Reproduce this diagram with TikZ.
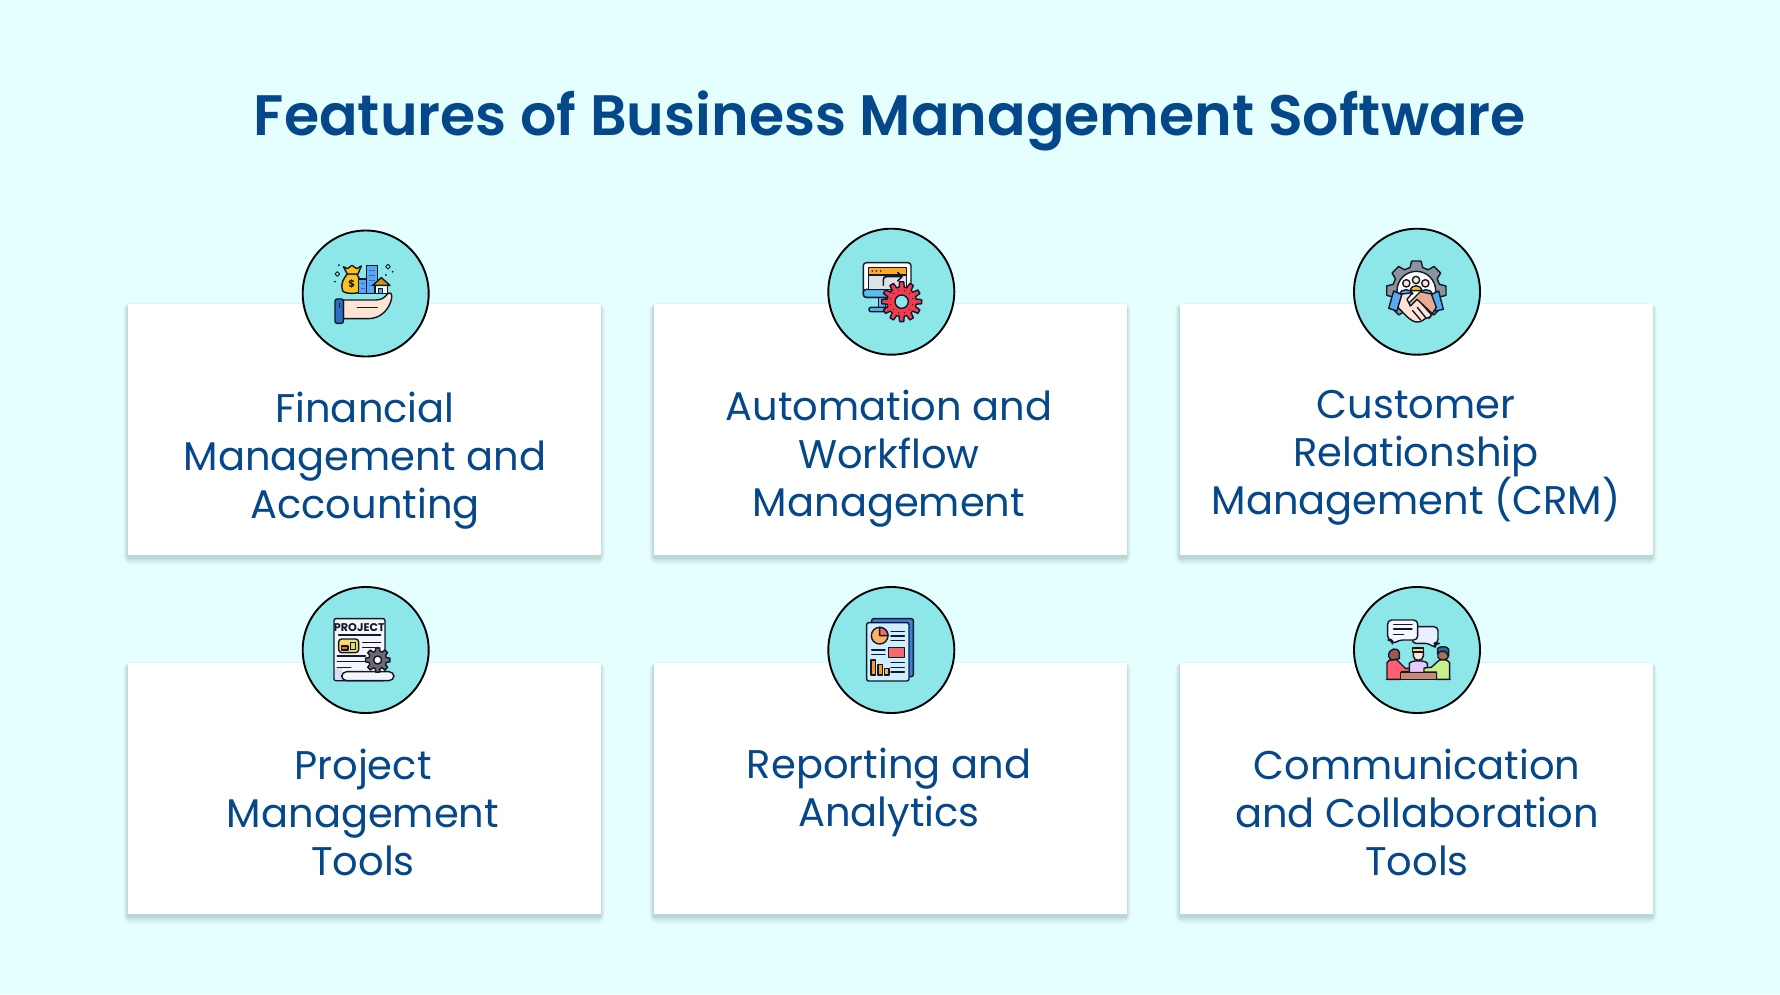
\documentclass[tikz,border=0pt]{standalone}
\usepackage{fontspec}
\setmainfont{Poppins}
\newfontfamily\titlefont{Poppins SemiBold}
\newfontfamily\bodyfont{Poppins}
\newfontfamily\boldfont{Poppins}[BoldFont={Poppins Bold}]
\definecolor{pagebg}{HTML}{E5FEFF}
\definecolor{disc}{HTML}{8DE6E8}
\definecolor{ink}{HTML}{04478A}
\definecolor{line}{HTML}{10182A}
\definecolor{skin}{HTML}{FFE3D3}
\definecolor{skindark}{HTML}{E8AB90}
\definecolor{gold}{HTML}{FFC21A}
\definecolor{roof}{HTML}{C99A12}
\definecolor{sky}{HTML}{5AA8F0}
\definecolor{cuff}{HTML}{2F6CC4}
\definecolor{gearred}{HTML}{F23B4C}
\definecolor{gearslate}{HTML}{8C939C}
\definecolor{gearmauve}{HTML}{6F6870}
\definecolor{screenorange}{HTML}{FFAA22}
\definecolor{screengray}{HTML}{DDE2E2}
\definecolor{baseblue}{HTML}{5CBCF0}
\definecolor{pagelilac}{HTML}{DCDDF3}
\definecolor{pagewhite}{HTML}{F5F6FA}
\definecolor{panelyellow}{HTML}{FFD966}
\definecolor{panelred}{HTML}{F26B6F}
\definecolor{panelgreen}{HTML}{B8E986}
\definecolor{backblue}{HTML}{3A80E0}
\definecolor{frontblue}{HTML}{CFEEFF}
\definecolor{pieorange}{HTML}{FFB060}
\definecolor{barorange}{HTML}{FF9A1F}
\definecolor{hair}{HTML}{9A5A50}
\definecolor{shirtred}{HTML}{FF5F6F}
\definecolor{shirtlilac}{HTML}{E5CCFF}
\definecolor{hairyellow}{HTML}{FFD760}
\definecolor{faceb}{HTML}{B07050}
\definecolor{hairblue}{HTML}{2A6F8F}
\definecolor{shirtgreen}{HTML}{C8F08C}
\definecolor{tabletop}{HTML}{C98870}
\definecolor{bubblea}{HTML}{F5F8FF}
\definecolor{bubbleb}{HTML}{E8F0FD}
\tikzset{
  cardbox/.style={fill=white,draw=none,minimum width=473pt,minimum height=251pt,inner sep=0pt},
  discbox/.style={circle,fill=disc,draw=black,line width=1.9pt,minimum size=126pt,inner sep=0pt},
  cardtext/.style={text=ink,align=center,inner sep=0pt,font=\bodyfont\fontsize{40}{48}\selectfont},
  ol/.style={draw=line,line width=1.4pt,line join=round,line cap=round}
}
% gear: cx cy router rinner teeth fill holeR holeFill
\newcommand{\cog}[8]{%
  \begin{scope}[shift={(#1,#2)}]
    \pgfmathsetmacro{\stepang}{360/#5}
    \pgfmathsetmacro{\quarter}{\stepang/5}
    \draw[ol,fill=#6] (-\quarter:#3)
      \foreach \k in {1,...,#5}{
        -- ({(\k-1)*\stepang+\quarter}:#3)
        -- ({(\k-1)*\stepang+1.7*\quarter}:#4)
        -- ({\k*\stepang-1.7*\quarter}:#4)
        -- ({\k*\stepang-\quarter}:#3)
      } -- cycle;
    \draw[ol,fill=#8] (0,0) circle[radius=#7];
  \end{scope}}
\newcommand{\card}[5]{% name, cx, card top, disc cy, disc cx
  \foreach \g/\o in {9/0.025,7/0.03,5/0.035,3/0.045,1.5/0.06}{
    \fill[black!60!teal,opacity=\o,rounded corners=\g pt]
      ({#2-236.5-\g*0.5},{#3+3-\g*0.5}) rectangle ({#2+236.5+\g*0.5},{#3+251+3+\g*0.75});
  }
  \node[cardbox] (#1) at (#2,{#3+125.5}) {};
  \node[discbox] (#1disc) at (#5,#4) {};
}
\begin{document}
\begin{tikzpicture}[x=1pt,y=-1pt]
\useasboundingbox (0,0) rectangle (1780,994);
\fill[pagebg] (0,0) rectangle (1780,994);
\node[text=ink,inner sep=0pt,font=\titlefont\fontsize{57}{66}\selectfont] (title) at (890,121) {Features of Business Management Software};

\card{a}{364}{304}{293.5}{365.7}
\card{b}{890}{304}{291.7}{891.3}
\card{c}{1416}{304}{291.7}{1417}
\card{d}{364}{663}{650}{365.7}
\card{e}{890}{663}{650}{891.3}
\card{f}{1416}{663}{650}{1417}

\node[cardtext] (ta) at (365,461) {Financial\\Management and\\Accounting};
\node[cardtext] (tb) at (889,459) {Automation and\\Workflow\\Management};
\node[cardtext] (tc) at (1416,458) {Customer\\Relationship\\Management (CRM)};
\node[cardtext] (td) at (363,812) {Project\\Management\\Tools};
\node[cardtext] (te) at (889,792.5) {Reporting and\\Analytics};
\node[cardtext] (tf) at (1417,812) {Communication\\and Collaboration\\Tools};

% ---------- icon 1: hand with assets
\begin{scope}[shift={(290,220)},x=0.3333pt,y=-0.3333pt]
  \draw[ol,fill=skin] (160,240) -- (258,240) .. controls (275,240) and (285,232) .. (292,222) .. controls (300,214) and (308,222) .. (305,235) .. controls (298,270) and (270,296) .. (235,296) -- (160,296) -- cycle;
  \draw[ol] (202,262) -- (262,262);
  \draw[ol,fill=cuff,rounded corners=2pt] (135,237) rectangle (160,310);
  \draw[ol] (148,250) -- (148,262);
  % bag
  \draw[ol,fill=gold] (172,162) .. controls (160,175) and (150,195) .. (158,212) .. controls (162,222) and (200,222) .. (208,216) -- (208,175) -- (200,162) -- cycle;
  \draw[ol,fill=gold] (160,140) -- (172,146) -- (186,136) -- (200,146) -- (214,138) -- (204,162) -- (172,162) -- cycle;
  \node[inner sep=0pt,font=\boldfont\bfseries\fontsize{10}{10}\selectfont,text=line] (dollar) at (185,192) {\$};
  % buildings
  \draw[ol,fill=sky] (205,177) rectangle (232,220);
  \draw[ol,fill=sky] (230,137) rectangle (262,220);
  \foreach \yy in {150,165,180,195}{\draw[draw=cuff,line width=.6pt] (238,\yy) -- (255,\yy);}
  \foreach \yy in {190,205}{\draw[draw=cuff,line width=.6pt] (212,\yy) -- (226,\yy);}
  % house
  \draw[ol,fill=white] (255,192) rectangle (292,220);
  \draw[ol,fill=roof] (248,196) -- (274,173) -- (300,196) -- cycle;
  \draw[ol,fill=sky] (266,206) rectangle (278,220);
  % sparkles
  \foreach \px/\py in {142/162,294/140}{\draw[ol,line width=.9pt] (\px-7,\py) -- (\px,\py-7) -- (\px+7,\py) -- (\px,\py+7) -- cycle;}
  \foreach \px/\py in {147/135,135/185,288/165,308/155}{\fill[line] (\px,\py) circle[radius=3];}
\end{scope}

% ---------- icon 2: monitor with gear
\begin{scope}[shift={(815,220)},x=0.3333pt,y=-0.3333pt]
  \draw[ol,fill=baseblue] (190,232) rectangle (212,262);
  \draw[ol,fill=baseblue,rounded corners=2pt] (162,262) rectangle (225,275);
  \draw[ol,fill=white,rounded corners=3pt] (145,128) rectangle (288,232);
  \draw[ol,fill=baseblue,rounded corners=3pt] (145,208) rectangle (288,232);
  \draw[ol,fill=screengray] (160,142) rectangle (275,208);
  \draw[ol,fill=screenorange] (160,142) rectangle (275,165);
  \foreach \px in {172,184,197}{\fill[line] (\px,153) circle[radius=2.6];}
  \draw[ol,line width=1.6pt] (205,196) -- (205,180) .. controls (205,172) and (208,170) .. (215,170) -- (260,170);
  \draw[ol,line width=1.6pt] (248,157) -- (261,170) -- (248,183);
  \cog{260}{245}{60}{44}{12}{gearred}{20}{disc}
  \foreach \k in {0,30,...,330}{\fill[line] (260,245) ++(\k+15:34) circle[radius=2];}
\end{scope}

% ---------- icon 3: handshake with gear
\begin{scope}[shift={(1342,220)},x=0.3333pt,y=-0.3333pt]
  \cog{223}{212}{90}{72}{8}{gearslate}{58}{white}
  \draw[ol,fill=skin] (193,190) circle[radius=11];
  \draw[ol,fill=skin] (250,190) circle[radius=11];
  \draw[ol,fill=skin] (222,180) circle[radius=11];
  \draw[ol,fill=sky] (172,222) .. controls (175,205) and (210,205) .. (212,222) -- cycle;
  \draw[ol,fill=sky] (232,222) .. controls (235,205) and (268,205) .. (272,222) -- cycle;
  \draw[ol,fill=gold] (205,212) .. controls (208,192) and (236,192) .. (240,212) -- cycle;
  \draw[ol,fill=sky] (155,213) -- (180,224) -- (165,273) -- (140,265) -- cycle;
  \draw[ol,fill=sky] (268,224) -- (290,213) -- (304,268) -- (280,273) -- cycle;
  \draw[ol,fill=skindark] (235,215) -- (268,222) -- (283,262) -- (262,295) -- (215,260) -- (195,255) -- cycle;
  \draw[ol,fill=skin] (180,222) -- (212,218) -- (195,238) -- (205,258) -- (225,238) -- (272,282) .. controls (268,292) and (258,292) .. (250,296) .. controls (244,302) and (236,304) .. (230,306) .. controls (215,308) and (205,298) .. (195,290) -- (168,262) -- cycle;
  \draw[ol] (212,272) -- (236,300);
  \draw[ol] (226,262) -- (252,294);
  \draw[ol] (240,252) -- (268,284);
\end{scope}

% ---------- icon 4: project document
\begin{scope}[shift={(290,580)},x=0.3333pt,y=-0.3333pt]
  \draw[ol,fill=pagewhite,rounded corners=2pt] (132,116) rectangle (285,302);
  \fill[pagelilac] (135,265) -- (155,265) -- (155,299) -- (135,299) -- cycle;
  \node[inner sep=0pt,text=line,font=\boldfont\bfseries\fontsize{11.2}{12}\selectfont] (projword) at (208,143) {PROJECT};
  \draw[ol] (146,165) -- (272,165);
  \draw[ol,fill=panelyellow,rounded corners=3pt] (146,177) rectangle (206,218);
  \draw[ol,fill=panelred] (155,198) rectangle (174,210);
  \draw[ol,fill=panelgreen] (181,187) rectangle (197,208);
  \draw[ol] (218,188) -- (272,188);
  \draw[ol] (218,203) -- (255,203);
  \draw[ol] (142,228) -- (226,228);
  \draw[ol] (142,245) -- (226,245);
  \draw[ol] (142,263) -- (182,263);
  \draw[ol,fill=pagewhite,rounded corners=5pt] (155,275) rectangle (312,302);
  \cog{263}{240}{37}{27}{8}{gearmauve}{12}{white}
\end{scope}

% ---------- icon 5: report
\begin{scope}[shift={(815,580)},x=0.3333pt,y=-0.3333pt]
  \draw[ol,fill=backblue,rounded corners=2pt] (170,116) rectangle (295,290);
  \draw[ol,fill=frontblue,rounded corners=2pt] (155,128) rectangle (282,303);
  \draw[ol,fill=pieorange] (194,167) circle[radius=25];
  \draw[ol,fill=panelred] (194,167) -- (194,142) arc[start angle=-90,delta angle=90,radius=25] -- cycle;
  \foreach \yy in {155,168,181}{\draw[ol] (228,\yy) -- (268,\yy);}
  \foreach \yy in {210,224}{\draw[ol] (170,\yy) -- (210,\yy);}
  \draw[ol,fill=panelred] (220,203) rectangle (268,232);
  \draw[ol,fill=barorange] (168,240) rectangle (182,285);
  \draw[ol,fill=barorange] (189,253) rectangle (202,285);
  \draw[ol,fill=pieorange] (209,265) rectangle (222,285);
  \foreach \yy in {248,262,276}{\draw[ol] (228,\yy) -- (268,\yy);}
\end{scope}

% ---------- icon 6: people talking
\begin{scope}[shift={(1342,580)},x=0.3333pt,y=-0.3333pt]
  \draw[ol,fill=bubbleb,rounded corners=4pt] (210,140) -- (288,140) -- (288,190) -- (280,190) -- (278,205) -- (262,190) -- (210,190) -- cycle;
  \draw[ol,fill=bubblea,rounded corners=4pt] (137,120) -- (227,120) -- (227,180) -- (170,180) -- (152,193) -- (150,180) -- (137,180) -- cycle;
  \draw[ol] (155,133) -- (210,133);
  \draw[ol] (155,147) -- (210,147);
  \draw[ol] (155,163) -- (185,163);
  % left person
  \draw[ol,fill=shirtred] (135,298) -- (135,248) .. controls (140,238) and (160,236) .. (165,240) -- (190,265) -- (210,265) -- (210,275) -- (178,275) -- (178,298) -- cycle;
  \draw[ol,fill=hair] (140,228) .. controls (138,205) and (170,198) .. (172,220) -- (172,236) -- (152,240) .. controls (145,240) and (140,235) .. (140,228) -- cycle;
  % middle person
  \draw[ol,fill=shirtlilac] (202,278) -- (202,250) .. controls (208,240) and (250,240) .. (256,250) -- (256,264) -- (246,278) -- cycle;
  \draw[ol,fill=skin] (214,212) -- (244,212) -- (244,228) .. controls (244,245) and (214,245) .. (214,228) -- cycle;
  \draw[ol,fill=hairyellow] (212,216) -- (212,204) -- (244,204) -- (244,216) -- cycle;
  % right person
  \draw[ol,fill=shirtgreen] (323,298) -- (323,248) .. controls (318,238) and (298,236) .. (290,242) -- (268,262) -- (246,264) -- (246,276) -- (283,276) -- (283,298) -- cycle;
  \draw[ol,fill=faceb] (288,214) -- (318,214) -- (318,232) .. controls (315,242) and (292,242) .. (288,232) -- cycle;
  \draw[ol,fill=hairblue] (287,222) -- (287,205) .. controls (292,198) and (318,198) .. (320,208) -- (320,228) -- (310,214) -- (295,214) -- cycle;
  % table
  \draw[ol,fill=tabletop] (176,277) rectangle (283,298);
  \draw[ol] (133,298) -- (325,298);
\end{scope}
\end{tikzpicture}
\end{document}
